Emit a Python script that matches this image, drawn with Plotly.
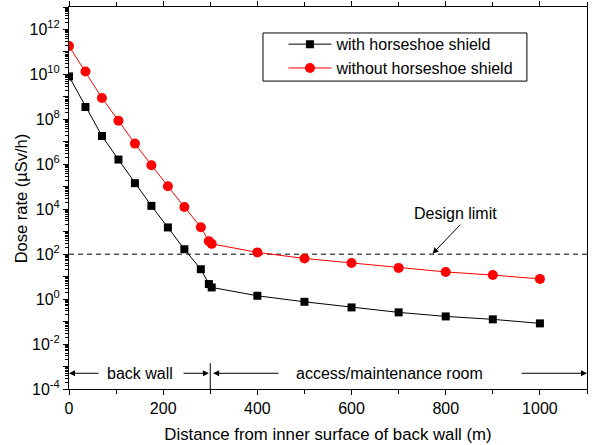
import math
import plotly.graph_objects as go

# ---- data ----
dist_with = [0, 35, 70, 105, 140, 175, 210, 245, 280, 297, 303, 400, 500, 600, 700, 800, 900, 1000]
log_dose_with = [9.91, 8.55, 7.26, 6.21, 5.16, 4.15, 3.19, 2.22, 1.33, 0.67, 0.52, 0.15,
                 -0.12, -0.37, -0.59, -0.77, -0.90, -1.08]
dist_without = [0, 35, 70, 105, 140, 175, 210, 245, 280, 297, 303, 400, 500, 600, 700, 800, 900, 1000]
log_dose_without = [11.26, 10.13, 8.95, 7.94, 6.92, 5.96, 5.02, 4.10, 3.20, 2.58, 2.46, 2.08,
                    1.81, 1.61, 1.39, 1.21, 1.07, 0.90]
dose_with = [10 ** v for v in log_dose_with]
dose_without = [10 ** v for v in log_dose_without]

design_limit = 100.0
wall_thickness = 300
x_max = 1100
y_exp_range = (-4, 13)
y_tick_exps = list(range(-4, 14))
y_tick_labels = [f"10<sup>{k}</sup>" if k % 2 == 0 and k <= 12 else "" for k in y_tick_exps]
y_minor_vals = [m * 10 ** k for k in range(-4, 13) for m in range(2, 10)]

FONT = "Liberation Sans, Arial, Helvetica, sans-serif"

fig = go.Figure()

fig.add_trace(go.Scatter(x=[0, x_max], y=[design_limit, design_limit], mode="lines",
                         line=dict(color="black", width=1, dash="5px,4px"),
                         showlegend=False, hoverinfo="skip"))
fig.add_trace(go.Scatter(x=[wall_thickness, wall_thickness], y=[10 ** y_exp_range[0], 10 ** -2.85],
                         mode="lines", line=dict(color="black", width=1),
                         showlegend=False, hoverinfo="skip"))
fig.add_trace(go.Scatter(x=dist_with, y=dose_with, mode="lines+markers",
                         name="with horseshoe shield",
                         line=dict(color="black", width=1),
                         marker=dict(symbol="square", size=8, color="black")))
fig.add_trace(go.Scatter(x=dist_without, y=dose_without, mode="lines+markers",
                         name="without horseshoe shield",
                         line=dict(color="#ff0000", width=1),
                         marker=dict(symbol="circle", size=10, color="#ff0000")))

arrow_y = -3.3
ann = []
def arrow(x_head, x_tail, y):
    ann.append(dict(x=x_head, y=y, ax=x_tail, ay=y, xref="x", yref="y", axref="x", ayref="y",
                    text="", showarrow=True, arrowhead=2, arrowsize=1.2, arrowwidth=1,
                    arrowcolor="black", standoff=0, startstandoff=0))

arrow(0, 66, arrow_y)
arrow(297, 240, arrow_y)
arrow(306, 448, arrow_y)
arrow(x_max, 958, arrow_y)
ann.append(dict(x=151, y=arrow_y, xref="x", yref="y", text="back wall", showarrow=False,
                font=dict(family=FONT, size=16, color="black")))
ann.append(dict(x=680, y=arrow_y, xref="x", yref="y", text="access/maintenance room",
                showarrow=False, font=dict(family=FONT, size=16, color="black")))
ann.append(dict(x=772, y=math.log10(design_limit) + 0.02, ax=834, ay=3.38, xref="x", yref="y",
                axref="x", ayref="y", text="", showarrow=True, arrowhead=2, arrowsize=1.2,
                arrowwidth=1, arrowcolor="black", standoff=0))
ann.append(dict(x=821, y=3.82, xref="x", yref="y", text="Design limit", showarrow=False,
                font=dict(family=FONT, size=16, color="black")))
ann.append(dict(x=-0.092, y=0.5, xref="paper", yref="paper", text="Dose rate (µSv/h)",
                textangle=-90, showarrow=False, xanchor="center", yanchor="middle",
                font=dict(family=FONT, size=16.5, color="black")))

fig.update_layout(
    template="none",
    width=592, height=445,
    margin=dict(l=69, r=5, t=7, b=56),
    paper_bgcolor="white", plot_bgcolor="white",
    font=dict(family=FONT, size=16, color="black"),
    annotations=ann,
    legend=dict(x=0.414, y=0.947, xanchor="left", yanchor="top",
                borderwidth=0, bgcolor="rgba(0,0,0,0)",
                font=dict(family=FONT, size=16, color="black"),
                itemwidth=43, tracegroupgap=0),
    shapes=[dict(type="rect", xref="paper", yref="paper",
                 x0=0.3745, x1=0.884, y0=0.806, y1=0.932,
                 line=dict(color="black", width=1), fillcolor="rgba(0,0,0,0)",
                 layer="above")],
)
fig.update_xaxes(
    range=[0, x_max], dtick=200, tick0=0, tickmode="linear",
    showline=True, linecolor="black", linewidth=1, mirror="ticks",
    ticks="outside", ticklen=5, tickcolor="black", tickwidth=1,
    minor=dict(dtick=100, tick0=0, tickmode="linear", ticks="outside", ticklen=4,
               tickcolor="black", tickwidth=1, showgrid=False),
    showgrid=False, zeroline=False,
    tickfont=dict(family=FONT, size=16),
    title=dict(text="Distance from inner surface of back wall (m)",
               font=dict(family=FONT, size=16.8), standoff=12),
)
fig.update_yaxes(
    type="log", range=list(y_exp_range),
    tickmode="array", tickvals=[10 ** k for k in y_tick_exps], ticktext=y_tick_labels,
    showline=True, linecolor="black", linewidth=1, mirror=True,
    ticks="outside", ticklen=5, tickcolor="black", tickwidth=1.3,
    minor=dict(tickmode="array", tickvals=y_minor_vals, ticks="outside", ticklen=3,
               tickcolor="black", tickwidth=1, showgrid=False),
    showgrid=False, zeroline=False,
    tickfont=dict(family=FONT, size=16),
)

fig.write_html("out.html")
